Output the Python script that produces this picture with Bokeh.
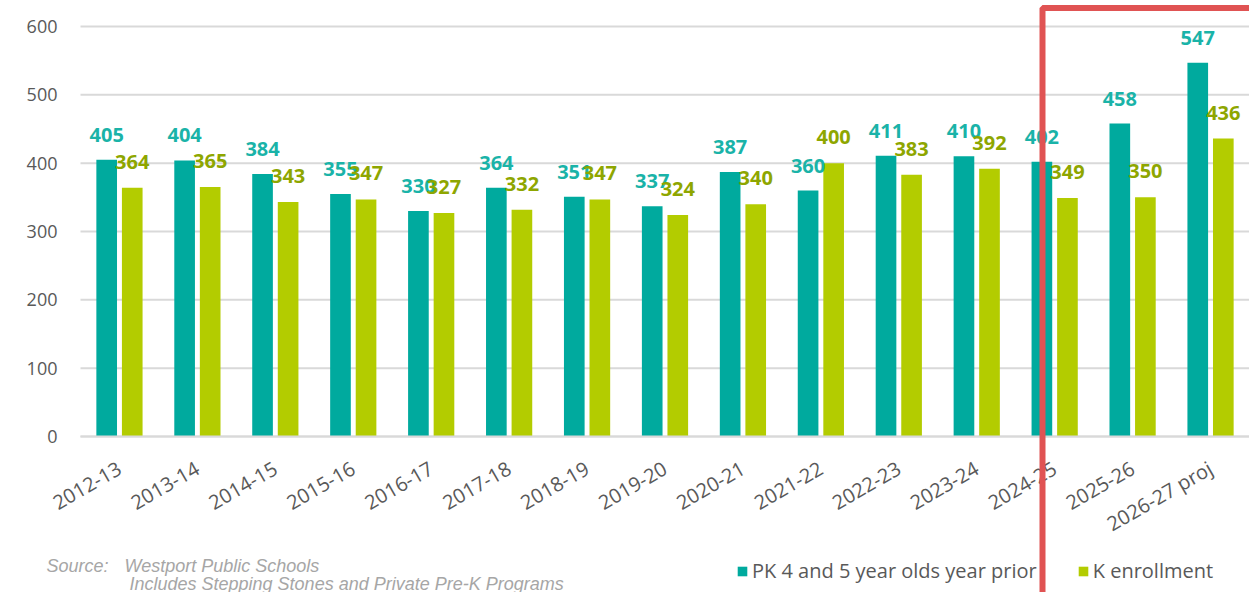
from bokeh.plotting import figure
from bokeh.models import (ColumnDataSource, Legend, LegendItem, Label,
                          BoxAnnotation, FixedTicker)
from bokeh.transform import dodge
from bokeh.core.properties import value
from bokeh.embed import file_html
from bokeh.resources import INLINE
import math

years = ["2012-13", "2013-14", "2014-15", "2015-16", "2016-17", "2017-18", "2018-19",
         "2019-20", "2020-21", "2021-22", "2022-23", "2023-24", "2024-25", "2025-26",
         "2026-27 proj"]
pk_prior = [405, 404, 384, 355, 330, 364, 351, 337, 387, 360, 411, 410, 402, 458, 547]
k_enroll = [364, 365, 343, 347, 327, 332, 347, 324, 340, 400, 383, 392, 349, 350, 436]
y_ticks = [0, 100, 200, 300, 400, 500, 600]

pk_name = "PK 4 and 5 year olds year prior"
k_name = "K enrollment"
source_lines = ["Source:", "Westport Public Schools", "Includes Stepping Stones and Private Pre-K Programs"]

PK_COLOR = "#00aa9e"
K_COLOR = "#b3cc00"
PK_LABEL = "#1ab3a8"
K_LABEL = "#8ea600"
FONT = "Open Sans"

W, H = 1249, 592
FRAME_LEFT, FRAME_TOP = 80, 4      # pixel column of the category axis start, top of drawing area
AXIS_Y = 436                       # pixel row of y=0
PPU = 410 / 600.0                  # pixels per unit
n = len(years)
CAT_PX = (W - FRAME_LEFT) / n

centers = [i + 0.5 for i in range(n)]
src = ColumnDataSource(dict(xc=centers, year=years, pk=pk_prior, k=k_enroll,
                            pk_t=[str(v) for v in pk_prior], k_t=[str(v) for v in k_enroll]))

y_start = -(H - AXIS_Y) / PPU
y_end = (AXIS_Y - FRAME_TOP) / PPU
x_start = -FRAME_LEFT / CAT_PX

p = figure(width=W, height=H, x_range=(x_start, n), y_range=(y_start, y_end),
           output_backend="svg", toolbar_location=None,
           min_border_left=0, min_border_right=0, min_border_top=FRAME_TOP,
           min_border_bottom=0)
p.outline_line_color = None
p.background_fill_color = "white"
p.border_fill_color = "white"

# horizontal gridlines limited to the category area
p.xgrid.grid_line_color = None
p.ygrid.grid_line_color = None
p.segment(x0=[0] * len(y_ticks), x1=[n] * len(y_ticks), y0=y_ticks, y1=y_ticks,
          line_color="#d9d9d9", line_width=2, level="underlay")

off = 0.164
bw = 0.265
r1 = p.vbar(x=dodge("xc", -off), top="pk", bottom=0, width=bw, source=src,
            fill_color=PK_COLOR, line_color=None)
r2 = p.vbar(x=dodge("xc", off), top="k", bottom=0, width=bw, source=src,
            fill_color=K_COLOR, line_color=None)

p.text(x=dodge("xc", -off), y="pk", text="pk_t", source=src,
       text_align="center", text_baseline="alphabetic", y_offset=-25,
       text_font=value(FONT), text_font_style="bold", text_font_size="20px",
       text_color=PK_LABEL)
p.text(x=dodge("xc", off), y="k", text="k_t", source=src,
       text_align="center", text_baseline="alphabetic", y_offset=-26,
       text_font=value(FONT), text_font_style="bold", text_font_size="20px",
       text_color=K_LABEL)

# axes
p.yaxis.fixed_location = 0
p.yaxis.ticker = FixedTicker(ticks=y_ticks)
p.yaxis.axis_line_color = None
p.yaxis.major_tick_line_color = None
p.yaxis.minor_tick_line_color = None
p.yaxis.major_label_standoff = 17
p.yaxis.major_label_text_font = FONT
p.yaxis.major_label_text_font_size = "18px"
p.yaxis.major_label_text_color = "#595959"

p.xaxis.fixed_location = 0
p.xaxis.bounds = (0, n)
p.xaxis.ticker = FixedTicker(ticks=centers)
p.xaxis.major_label_overrides = {c: y for c, y in zip(centers, years)}
p.xaxis.axis_line_color = "#d9d9d9"
p.xaxis.axis_line_width = 2
p.xaxis.major_tick_line_color = None
p.xaxis.minor_tick_line_color = None
p.xaxis.major_label_orientation = math.pi / 6
p.xaxis.major_label_standoff = 24
p.xaxis.major_label_text_font = FONT
p.xaxis.major_label_text_font_size = "20px"
p.xaxis.major_label_text_color = "#595959"

# legend
legend = Legend(items=[LegendItem(label=pk_name, renderers=[r1]),
                       LegendItem(label=k_name, renderers=[r2])],
                orientation="horizontal", location=(736, 8),
                glyph_width=12, glyph_height=12, label_standoff=4, spacing=40,
                padding=0, margin=0, border_line_color=None, background_fill_alpha=0,
                label_text_font=FONT, label_text_font_size="20px",
                label_text_color="#595959", label_height=20)
p.add_layout(legend, "center")

def ydata(img_y):
    return (AXIS_Y - img_y) / PPU
def xdata(img_x):
    return (img_x - FRAME_LEFT) / CAT_PX

for txt, ix, iy in [(source_lines[0], 46, 565), (source_lines[1], 124, 565), (source_lines[2], 129, 583)]:
    p.add_layout(Label(x=xdata(ix), y=ydata(iy), text=txt, text_font="Liberation Sans",
                       text_font_style="italic", text_font_size="18px", text_color="#a6a6a6",
                       text_baseline="alphabetic"))

# red highlight box
p.add_layout(BoxAnnotation(left=xdata(1042), right=n + 1, top=ydata(7.5), bottom=y_start - 100,
                           fill_alpha=0, line_color="#e05353", line_alpha=1, line_width=6))

open("out.html", "w").write(file_html(p, INLINE))
